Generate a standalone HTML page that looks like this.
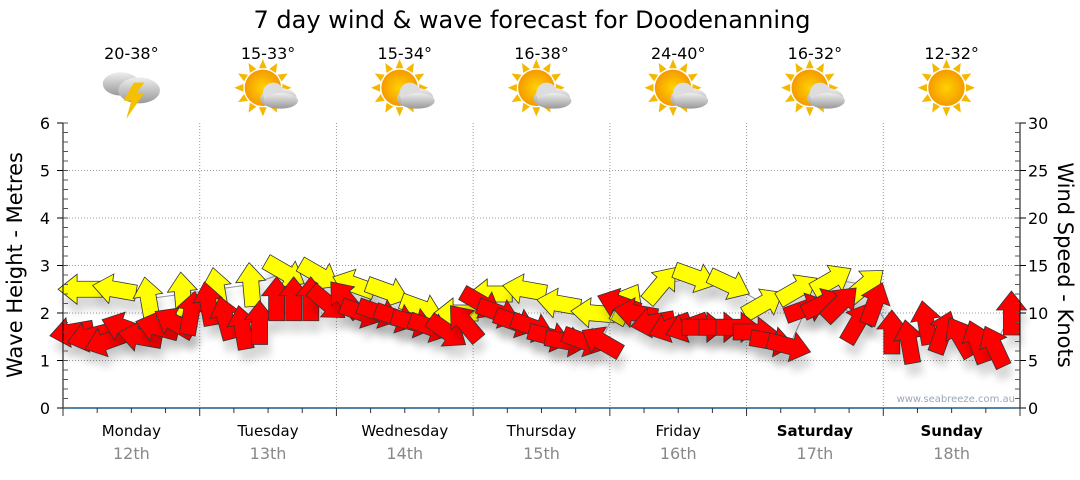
<!DOCTYPE html>
<html><head><meta charset="utf-8"><style>
body{margin:0;background:#fff;width:1080px;height:475px;overflow:hidden;font-family:"Liberation Sans","DejaVu Sans",sans-serif}
svg text{font-family:"DejaVu Sans","Liberation Sans",sans-serif}
</style></head><body>
<svg id="c" width="1080" height="475" xmlns="http://www.w3.org/2000/svg">
<defs>
<filter id="sh" x="-50%" y="-50%" width="200%" height="200%"><feGaussianBlur stdDeviation="4"/></filter>
<radialGradient id="sun" cx="0.5" cy="0.5" r="0.5"><stop offset="0" stop-color="#ffd200"/><stop offset="1" stop-color="#f59a00"/></radialGradient>
<linearGradient id="cl" x1="0" y1="0" x2="0" y2="1"><stop offset="0" stop-color="#eee"/><stop offset="1" stop-color="#999"/></linearGradient>
</defs>
<text x="532" y="28" font-size="24" text-anchor="middle" fill="#000">7 day wind &amp; wave forecast for Doodenanning</text>
<g id="grid"></g><g id="icons"></g><g id="marks"></g><g id="axes"></g>
<text transform="translate(22,265) rotate(-90)" font-size="21" text-anchor="middle">Wave Height - Metres</text>
<text transform="translate(1058,265) rotate(90)" font-size="21" text-anchor="middle">Wind Speed - Knots</text>
<text x="1015" y="402" font-size="10" fill="#9aa6b8" text-anchor="end">www.seabreeze.com.au</text>
</svg>
<script>
const days=["Monday","Tuesday","Wednesday","Thursday","Friday","Saturday","Sunday"];
const dates=["12th","13th","14th","15th","16th","17th","18th"];
const temps=["20-38°","15-33°","15-34°","16-38°","24-40°","16-32°","12-32°"];
const icons=["storm","partly","partly","partly","partly","partly","sun"];
const waveTicks=[0,1,2,3,4,5,6];
const windTicks=[0,5,10,15,20,25,30];
// wind every 3 hours (knots) and direction arrow points (deg, 0=east, 90=north)
const windSpeed=[8,7.5,7,8.5,7.5,8.5,9,10, 11,9.5,8.5,9,11.5,11.5,11.5,11, 11.5,10,10,9.5,9,8.5,8,9, 11,10,9,8.5,7.5,7,7,7, 11,10,9,8.5,8.5,8.5,8.5,8.5, 8,7,6.5,10.5,11,11,9,11, 8,7,9,8,7.5,7,6.5,10];
const windDir=[190,195,200,160,170,165,150,80, 100,105,100,90,90,90,90,-40, 130,-20,-20,-20,-15,-20,-35,130, -30,-20,-20,-20,-15,-10,-20,150, 160,170,190,200,200,0,0,0, 0,-10,-15,20,25,45,60,70, 90,100,100,70,120,110,115,90];
// waves every 6 hours (m)
const waveHeight=[2.5,2.5,2.3,2.4, 2.5,2.6,2.85,2.8, 2.6,2.45,2.1,2.0, 2.4,2.5,2.2,2.0, 2.2,2.6,2.75,2.6, 2.2,2.5,2.7,2.6];
const waveDir=[180,170,100,95, 100,95,-30,-30, 160,-20,-20,180, 180,170,170,175, 60,50,-20,-25, 30,30,30,40];

const NS="http://www.w3.org/2000/svg";
const X0=63,X1=1020,Y0=408,Y1=123;
const xH=h=>X0+h*(X1-X0)/168;
const yW=m=>Y0-m*(Y0-Y1)/6;
const yK=k=>Y0-k*(Y0-Y1)/30;
function mk(tag,attrs,parent){const e=document.createElementNS(NS,tag);for(const k in attrs)e.setAttribute(k,attrs[k]);parent.appendChild(e);return e;}
const G=document.getElementById('grid'),A=document.getElementById('axes'),M=document.getElementById('marks'),I=document.getElementById('icons');
for(let i=1;i<6;i++){const l=mk('line',{x1:X0,x2:X1,y1:yW(i),y2:yW(i),stroke:'#999','stroke-dasharray':'1,2'},G);

}
for(let d=1;d<7;d++){const l=mk('line',{x1:xH(d*24),x2:xH(d*24),y1:Y1,y2:Y0,stroke:'#999','stroke-dasharray':'1,2'},G);

}
mk('line',{x1:X0,x2:X0,y1:Y1,y2:Y0,stroke:'#000'},A);
mk('line',{x1:X1,x2:X1,y1:Y1,y2:Y0,stroke:'#000'},A);
mk('line',{x1:X0,x2:X1,y1:Y0,y2:Y0,stroke:'#1f5c8a','stroke-width':1.5},A);
waveTicks.forEach(v=>{const t=mk('text',{x:50,y:yW(v)+6,'font-size':16,'text-anchor':'end'},A);t.textContent=v;


mk('line',{x1:X0-6,x2:X0,y1:yW(v),y2:yW(v),stroke:'#000'},A);});
for(let i=0;i<=30;i++){mk('line',{x1:X0,x2:X0+5,y1:yW(i/5),y2:yW(i/5),stroke:'#555'},A);mk('line',{x1:X1-5,x2:X1,y1:yW(i/5),y2:yW(i/5),stroke:'#555'},A);}
windTicks.forEach(v=>{const t=mk('text',{x:1028,y:yK(v)+6,'font-size':16},A);t.textContent=v;


mk('line',{x1:X1,x2:X1+6,y1:yK(v),y2:yK(v),stroke:'#000'},A);});
for(let h=0;h<=168;h+=6){mk('line',{x1:xH(h),x2:xH(h),y1:Y0,y2:Y0+(h%24?5:8),stroke:'#333'},A);}
days.forEach((d,i)=>{const cx=xH(i*24+12);
const t=mk('text',{x:cx,y:436,'font-size':15,'text-anchor':'middle','font-weight':i>=5?'bold':'normal'},A);t.textContent=d;


const t2=mk('text',{x:cx,y:459,'font-size':16,'text-anchor':'middle',fill:'#888'},A);t2.textContent=dates[i];


const t3=mk('text',{x:cx,y:59,'font-size':16,'text-anchor':'middle'},I);t3.textContent=temps[i];


const g=mk('g',{transform:`translate(${cx},93) scale(1.3)`},I);


if(icons[i]==='storm'){
 mk('ellipse',{cx:-8,cy:-7,rx:14,ry:9,fill:'url(#cl)'},g);
 mk('ellipse',{cx:6,cy:-2,rx:16,ry:10,fill:'url(#cl)'},g);
 mk('polygon',{points:'2,-8 -6,6 0,6 -4,20 10,0 4,0 10,-8',fill:'#f5c000'},g);
}else{
 for(let k=0;k<12;k++){const a=k*30*Math.PI/180;mk('polygon',{points:`${-4+15*Math.cos(a)-3*Math.sin(a)},${-4+15*Math.sin(a)+3*Math.cos(a)} ${-4+22*Math.cos(a)},${-4+22*Math.sin(a)} ${-4+15*Math.cos(a)+3*Math.sin(a)},${-4+15*Math.sin(a)-3*Math.cos(a)}`,fill:'#f5b800'},g);}
 mk('circle',{cx:-4,cy:-4,r:14,fill:'url(#sun)'},g);
 if(icons[i]==='partly'){mk('ellipse',{cx:8,cy:4,rx:14,ry:8,fill:'url(#cl)'},g);mk('circle',{cx:4,cy:0,r:8,fill:'#ddd'},g);mk('ellipse',{cx:10,cy:6,rx:13,ry:6,fill:'url(#cl)'},g);}
}
});
const arrowPts='-22,-8 3,-8 3,-15 22,0 3,15 3,8 -22,8';
function arrow(x,y,deg,fill,name){
 const s=mk('polygon',{points:arrowPts,fill:'#000',opacity:0.15,filter:'url(#sh)',transform:`translate(${x+3},${y+12}) rotate(${-deg})`},M);
 
 
 const p=mk('polygon',{points:arrowPts,fill:fill,stroke:'#333','stroke-width':0.8,transform:`translate(${x},${y}) rotate(${-deg})`},M);
 
 
}
let wl='';waveHeight.forEach((v,i)=>{wl+=(i?'L':'M')+xH(i*6+3)+','+yW(v);});
mk('path',{d:wl,fill:'none',stroke:'#999'},M);
waveHeight.forEach((v,i)=>arrow(xH(i*6+3),yW(v),waveDir[i],'#ffff00','wave-arrow'));
let kl='';windSpeed.forEach((v,i)=>{kl+=(i?'L':'M')+xH(i*3+1.5)+','+yK(v);});
mk('path',{d:kl,fill:'none',stroke:'#999'},M);
windSpeed.forEach((v,i)=>arrow(xH(i*3+1.5),yK(v),windDir[i],'#ff0000','wind-arrow'));
</script>
</body></html>
